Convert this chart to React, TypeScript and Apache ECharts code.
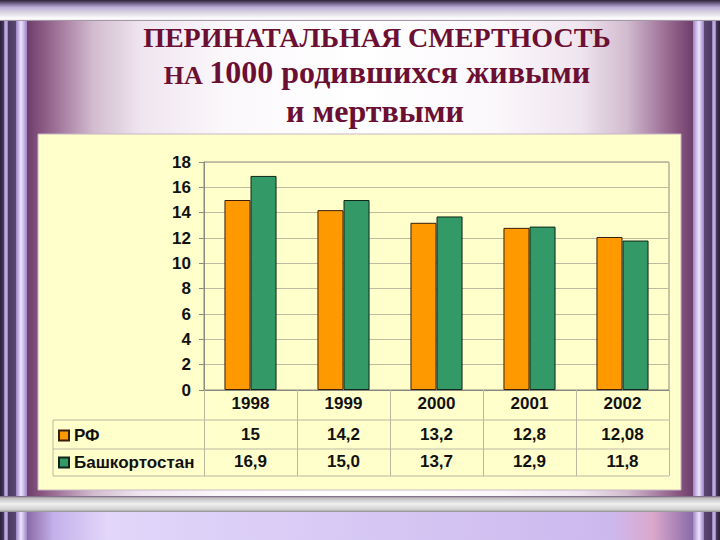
import React, { useEffect, useRef } from "react";
import * as echarts from "echarts";

// ---- data ----
const years = ["1998", "1999", "2000", "2001", "2002"];
const seriesNames = ["РФ", "Башкортостан"];
const rfValues = [15, 14.2, 13.2, 12.8, 12.08];
const bashValues = [16.9, 15.0, 13.7, 12.9, 11.8];
const yMin = 0;
const yMax = 18;
const yStep = 2;
const titleLine1 = "ПЕРИНАТАЛЬНАЯ СМЕРТНОСТЬ";
const titleLine2a = "НА ";
const titleLine2b = "1000 родившихся живыми";
const titleLine3 = "и мертвыми";

const rfLabels = rfValues.map((v) => String(v).replace(".", ","));
const bashLabels = bashValues.map((v) => v.toFixed(1).replace(".", ","));

// ---- layout ----
const W = 720;
const H = 540;
const GL = 204;
const GT = 162;
const GR = 669;
const GB = 390;
const TABLE_L = 53;
const ROW1 = 420;
const ROW2 = 449;
const ROW3 = 476;

const SANS = "'Liberation Sans', Arial, sans-serif";
const SERIF = "'Liberation Serif', 'Times New Roman', serif";
const TITLE_COLOR = "#6b0f33";
const TABLE_LINE = "#b9b8a0";

const lg = (x0: number, y0: number, x1: number, y1: number, stops: [number, string][]) =>
  new echarts.graphic.LinearGradient(
    x0, y0, x1, y1,
    stops.map(([offset, color]) => ({ offset, color }))
  );

function buildGraphic() {
  const g: any[] = [];
  // base
  g.push({ type: "rect", z: -100, shape: { x: 0, y: 0, width: W, height: H }, style: { fill: "#3a2a4c" } });
  // interior
  g.push({
    type: "rect", z: -99,
    shape: { x: 27, y: 20, width: W - 54, height: 478 },
    style: {
      fill: lg(0, 0, 1, 0, [
        [0, "#6e3f6c"], [0.02, "#86547f"], [0.05, "#a57a9f"], [0.1, "#d2bccf"],
        [0.17, "#efe5ef"], [0.3, "#fbf8fb"], [0.5, "#ffffff"], [0.7, "#fbf8fb"],
        [0.83, "#efe5ef"], [0.9, "#d2bccf"], [0.95, "#a57a9f"], [0.98, "#86547f"], [1, "#6e3f6c"],
      ]),
    },
  });
  // pillars (left and right)
  const pillar = (x: number, w: number, stops: [number, string][]) =>
    g.push({ type: "rect", z: -98, shape: { x, y: 0, width: w, height: H }, style: { fill: lg(0, 0, 1, 0, stops) } });
  pillar(0, 4, [[0, "#2a1f3a"], [1, "#4a3a60"]]);
  pillar(4, 4, [[0, "#8f78b0"], [0.5, "#cdb9ec"], [1, "#8f78b0"]]);
  pillar(8, 8, [[0, "#4b3a62"], [1, "#5a4672"]]);
  pillar(16, 11, [[0, "#9a82c4"], [0.45, "#eee4ff"], [1, "#9d85c6"]]);
  pillar(W - 27, 11, [[0, "#9d85c6"], [0.55, "#eee4ff"], [1, "#9a82c4"]]);
  pillar(W - 16, 8, [[0, "#5a4672"], [1, "#4b3a62"]]);
  pillar(W - 8, 4, [[0, "#8f78b0"], [0.5, "#cdb9ec"], [1, "#8f78b0"]]);
  pillar(W - 4, 4, [[0, "#4a3a60"], [1, "#2a1f3a"]]);
  // top band
  g.push({
    type: "rect", z: -97, shape: { x: 0, y: 0, width: W, height: 21 },
    style: {
      fill: lg(0, 0, 0, 1, [
        [0, "#2a2236"], [0.15, "#6c5c86"], [0.35, "#bcaed6"], [0.6, "#dcd6e4"],
        [0.82, "#f6f6f8"], [0.92, "#ffffff"], [1, "#7c6c84"],
      ]),
    },
  });
  // bottom gray band
  g.push({
    type: "rect", z: -97, shape: { x: 0, y: 496, width: W, height: 16 },
    style: {
      fill: lg(0, 0, 0, 1, [
        [0, "#6e5a78"], [0.12, "#bdbdbd"], [0.5, "#f0f0f0"], [0.85, "#cfcfcf"], [1, "#8e8e92"],
      ]),
    },
  });
  // bottom lavender band
  g.push({
    type: "rect", z: -97, shape: { x: 27, y: 512, width: W - 54, height: 28 },
    style: {
      fill: lg(0, 0, 1, 0, [
        [0, "#8a6aa8"], [0.04, "#c4b0ea"], [0.12, "#e2d6fa"], [0.5, "#d6c8f4"],
        [0.88, "#cdb8ee"], [0.94, "#dba8cc"], [1, "#8a6aa8"],
      ]),
    },
  });
  // chart panel
  g.push({
    type: "rect", z: -90, shape: { x: 38, y: 134, width: 643, height: 356 },
    style: { fill: "#ffffcc", stroke: "#c9b6c4", lineWidth: 1 },
  });
  // table lines
  [ROW1, ROW2, ROW3].forEach((y) =>
    g.push({ type: "line", z: 5, shape: { x1: TABLE_L, y1: y, x2: GR, y2: y }, style: { stroke: TABLE_LINE, lineWidth: 1 } })
  );
  g.push({ type: "line", z: 5, shape: { x1: TABLE_L, y1: ROW1, x2: TABLE_L, y2: ROW3 }, style: { stroke: TABLE_LINE, lineWidth: 1 } });
  // title
  g.push({
    type: "text", z: 100, x: 377, y: 37.5,
    style: { text: titleLine1, font: `bold 28px ${SERIF}`, fill: TITLE_COLOR, align: "center", verticalAlign: "middle" },
  });
  g.push({
    type: "text", z: 100, x: 377, y: 72,
    style: {
      text: `{a|${titleLine2a}}{b|${titleLine2b}}`,
      align: "center", verticalAlign: "middle",
      rich: {
        a: { font: `bold 26px ${SERIF}`, fill: TITLE_COLOR, verticalAlign: "bottom" },
        b: { font: `bold 32px ${SERIF}`, fill: TITLE_COLOR, verticalAlign: "bottom" },
      },
    },
  });
  g.push({
    type: "text", z: 100, x: 375, y: 111,
    style: { text: titleLine3, font: `bold 32px ${SERIF}`, fill: TITLE_COLOR, align: "center", verticalAlign: "middle" },
  });
  return g;
}

export default function App() {
  const ref = useRef<HTMLDivElement>(null);
  useEffect(() => {
    if (!ref.current) return;
    const chart = echarts.init(ref.current, undefined, { renderer: "svg" });
    const labelStyle = { fontFamily: SANS, fontWeight: "bold" as const, fontSize: 17, color: "#111" };
    const tableAxis = (labels: string[], offset: number) => ({
      type: "category" as const,
      data: years,
      position: "bottom" as const,
      offset,
      axisLine: { show: false },
      axisTick: { show: false },
      axisLabel: { ...labelStyle, margin: 5, formatter: (_v: string, i: number) => labels[i] },
      splitLine: { show: false },
    });
    chart.setOption({
      animation: false,
      graphic: buildGraphic(),
      grid: {
        left: GL, top: GT, right: W - GR, bottom: H - GB,
        show: true, borderColor: "#8a8a80", borderWidth: 1, backgroundColor: "transparent",
      },
      legend: {
        orient: "vertical",
        left: TABLE_L + 5,
        top: 427,
        padding: 0,
        itemGap: 10,
        itemWidth: 10,
        itemHeight: 10,
        icon: "rect",
        textStyle: { ...labelStyle, padding: [0, 0, 0, 0] },
        data: seriesNames,
      },
      xAxis: [
        {
          type: "category",
          data: years,
          position: "bottom",
          axisLine: { lineStyle: { color: "#8a8a80", width: 1 } },
          axisTick: { show: true, length: ROW3 - GB, lineStyle: { color: TABLE_LINE } },
          axisLabel: { ...labelStyle, margin: 5 },
        },
        tableAxis(rfLabels, 31),
        tableAxis(bashLabels, 58),
      ],
      yAxis: {
        type: "value",
        min: yMin,
        max: yMax,
        interval: yStep,
        axisLine: { show: true, lineStyle: { color: "#8a8a80" } },
        axisTick: { show: true, length: 5, lineStyle: { color: "#8a8a80" } },
        axisLabel: { ...labelStyle, margin: 13 },
        splitLine: { lineStyle: { color: "#bdbca2", width: 1 } },
      },
      series: [
        {
          name: seriesNames[0],
          type: "bar",
          data: rfValues,
          barGap: "0%",
          barCategoryGap: "44%",
          itemStyle: { color: "#ff9900", borderColor: "#3a1e0a", borderWidth: 1 },
        },
        {
          name: seriesNames[1],
          type: "bar",
          data: bashValues,
          barGap: "0%",
          barCategoryGap: "44%",
          itemStyle: { color: "#339966", borderColor: "#10261a", borderWidth: 1 },
        },
      ],
    });
    return () => chart.dispose();
  }, []);
  return <div ref={ref} style={{ position: "absolute", left: 0, top: 0, width: W, height: H }} />;
}
